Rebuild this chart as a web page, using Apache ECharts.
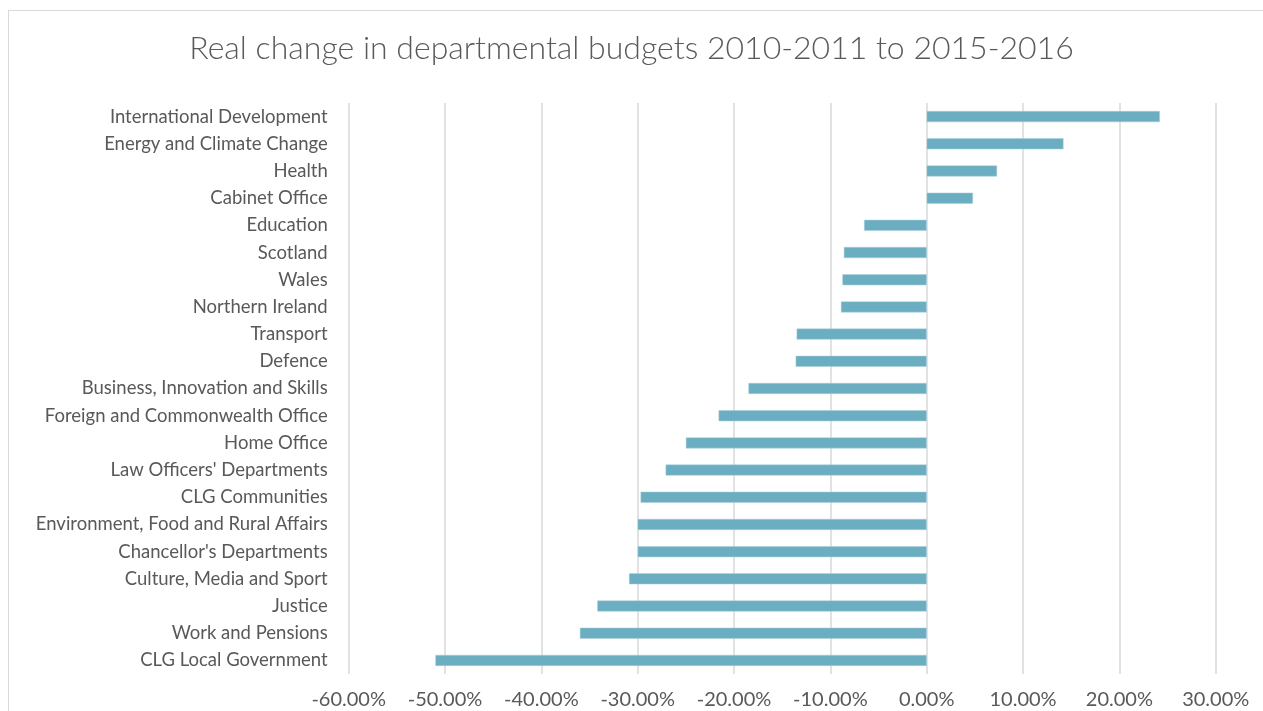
<!DOCTYPE html>
<html>
<head>
<meta charset="utf-8">
<script src="https://cdn.jsdelivr.net/npm/echarts@6/dist/echarts.min.js"></script>
<style>
html,body{margin:0;padding:0;background:#fff;}
#frame{position:absolute;left:8px;top:10px;width:1300px;height:760px;border:1.5px solid #d9d9d9;box-sizing:border-box;}
#chart{position:absolute;left:0;top:0;width:1263px;height:711px;}
</style>
</head>
<body>
<div id="frame"></div>
<div id="chart"></div>
<script>
const titleText = 'Real change in departmental budgets 2010-2011 to 2015-2016';
const categories = [
  'International Development','Energy and Climate Change','Health','Cabinet Office',
  'Education','Scotland','Wales','Northern Ireland','Transport','Defence',
  'Business, Innovation and Skills','Foreign and Commonwealth Office','Home Office',
  "Law Officers' Departments",'CLG Communities','Environment, Food and Rural Affairs',
  "Chancellor's Departments",'Culture, Media and Sport','Justice','Work and Pensions',
  'CLG Local Government'
];
const values = [
  0.242, 0.142, 0.073, 0.048,
  -0.065, -0.086, -0.0875, -0.089, -0.135, -0.136,
  -0.185, -0.216, -0.250,
  -0.271, -0.297, -0.300,
  -0.300, -0.309, -0.342, -0.360,
  -0.510
];
const xMin = -0.6, xMax = 0.3, xStep = 0.1;

const chart = echarts.init(document.getElementById('chart'));
const font = 'Lato, "Noto Sans", sans-serif';
chart.setOption({
  animation: false,
  title: {
    text: titleText,
    left: 'center',
    top: 28,
    textStyle: {fontFamily: font, fontWeight: 300, fontSize: 32, color: '#595959'}
  },
  grid: {left: 348.7, right: 47.3, top: 103, bottom: 37, containLabel: false},
  xAxis: {
    type: 'value',
    min: xMin, max: xMax, interval: xStep,
    axisLine: {show: false},
    axisTick: {show: false},
    splitLine: {show: true, lineStyle: {color: '#d9d9d9', width: 1.5}},
    axisLabel: {
      margin: 16,
      fontFamily: font, fontSize: 20, color: '#595959',
      formatter: v => (v * 100).toFixed(2) + '%'
    }
  },
  yAxis: {
    type: 'category',
    data: categories,
    inverse: true,
    axisLine: {show: false, onZero: false},
    axisTick: {show: false},
    axisLabel: {margin: 21, fontFamily: font, fontSize: 18.5, color: '#595959'}
  },
  series: [{
    type: 'bar',
    data: values,
    barWidth: 11,
    itemStyle: {color: '#6caec1', borderColor: '#a9cfda', borderWidth: 0.5}
  }]
});
</script>
</body>
</html>
